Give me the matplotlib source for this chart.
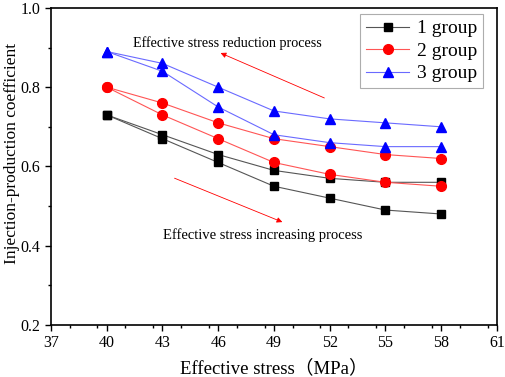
import matplotlib
matplotlib.use("Agg")
import matplotlib.pyplot as plt
from matplotlib.ticker import FixedLocator, MultipleLocator, FormatStrFormatter

plt.rcParams['font.family'] = ['Liberation Serif', 'Noto Sans CJK SC']

stress = [40, 43, 46, 49, 52, 55, 58]
x_ticks = [37, 40, 43, 46, 49, 52, 55, 58, 61]

g1_reduce = [0.73, 0.68, 0.63, 0.59, 0.57, 0.56, 0.56]
g1_increase = [0.73, 0.67, 0.61, 0.55, 0.52, 0.49, 0.48]
g2_reduce = [0.80, 0.76, 0.71, 0.67, 0.65, 0.63, 0.62]
g2_increase = [0.80, 0.73, 0.67, 0.61, 0.58, 0.56, 0.55]
g3_reduce = [0.89, 0.86, 0.80, 0.74, 0.72, 0.71, 0.70]
g3_increase = [0.89, 0.84, 0.75, 0.68, 0.66, 0.65, 0.65]

labels = ['1 group', '2 group', '3 group']

fig = plt.figure(figsize=(5.05, 3.77), dpi=100)
ax = fig.add_axes([0.101, 0.138, 0.883, 0.841])

styles = [
    (g1_reduce, g1_increase, '#555555', 'black', 's', 6),
    (g2_reduce, g2_increase, '#ff5555', 'red', 'o', 7),
    (g3_reduce, g3_increase, '#6a6aff', 'blue', '^', 7),
]
for (red, inc, lc, mc, mk, ms), lab in zip(styles, labels):
    ax.plot(stress, red, color=lc, lw=0.8, marker=mk, ms=ms, mfc=mc, mec=mc, label=lab)
    ax.plot(stress, inc, color=lc, lw=0.8, marker=mk, ms=ms, mfc=mc, mec=mc)

ax.set_xlim(37, 61)
ax.set_ylim(0.2, 1.0)
ax.xaxis.set_major_locator(FixedLocator(x_ticks))
ax.xaxis.set_minor_locator(MultipleLocator(1.5, offset=0.5))
ax.yaxis.set_major_locator(MultipleLocator(0.2))
ax.yaxis.set_minor_locator(MultipleLocator(0.1))
ax.tick_params(which='both', direction='out', top=False, right=False, labelsize=11.5, width=1.0)
ax.tick_params(which='major', length=4)
ax.tick_params(which='minor', length=2.5)
ax.yaxis.set_major_formatter(FormatStrFormatter('%.1f'))
for s in ax.spines.values():
    s.set_linewidth(1.2)

ax.set_xlabel('Effective stress（MPa）', fontsize=13.5, labelpad=6)
ax.set_ylabel('Injection-production coefficient', fontsize=12.5)
ax.yaxis.set_label_coords(-0.070, 0.54)

ax.annotate('', xy=(45.99, 0.889), xytext=(51.85, 0.770),
            arrowprops=dict(arrowstyle='-|>', color='red', lw=0.6, mutation_scale=8))
ax.text(41.41, 0.912, 'Effective stress reduction process', fontsize=10.2, va='center', ha='left')
ax.annotate('', xy=(49.59, 0.457), xytext=(43.51, 0.573),
            arrowprops=dict(arrowstyle='-|>', color='red', lw=0.6, mutation_scale=8))
ax.text(43.03, 0.427, 'Effective stress increasing process', fontsize=10.5, va='center', ha='left')

leg = ax.legend(loc='upper right', bbox_to_anchor=(0.9686, 0.981), fontsize=14, frameon=True,
                fancybox=False, edgecolor='#999999', handlelength=2.2, handletextpad=0.4,
                borderpad=0.3, labelspacing=0.25, borderaxespad=0.0)
leg.get_frame().set_linewidth(0.8)

fig.savefig('out.png', dpi=100)
